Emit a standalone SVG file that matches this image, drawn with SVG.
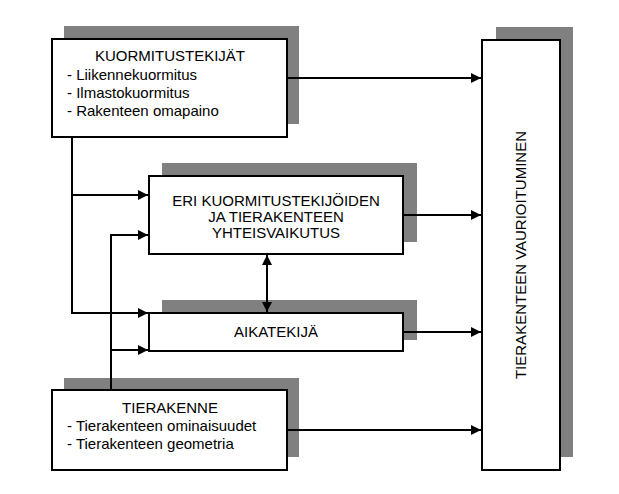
<svg xmlns="http://www.w3.org/2000/svg" width="619" height="494" viewBox="0 0 619 494">
<style>
.sh{fill:#808080}
.bx{fill:#fff;stroke:#000;stroke-width:2}
text{font-family:"Liberation Sans",Arial,sans-serif;font-size:15px;fill:#000}
.c{text-anchor:middle}
.ln{fill:none;stroke:#000;stroke-width:2}
</style>
<defs>
<marker id="a" viewBox="0 0 10 10" refX="10" refY="5" markerWidth="5" markerHeight="5" orient="auto-start-reverse"><path d="M0,0L10,5L0,10z" fill="#000"/></marker>
</defs>
<rect width="619" height="494" fill="#fff"/>
<g id="kuormitus">
<rect class="sh" x="64" y="26" width="235" height="98"/>
<rect class="bx" x="52" y="39" width="235" height="98"/>
<text class="c" x="170" y="61">KUORMITUSTEKIJÄT</text>
<text x="67" y="80">- Liikennekuormitus</text>
<text x="67" y="98">- Ilmastokuormitus</text>
<text x="67" y="116">- Rakenteen omapaino</text>
</g>
<g id="yhteis">
<rect class="sh" x="162" y="163" width="255" height="79"/>
<rect class="bx" x="149" y="176" width="254" height="78"/>
<text class="c" x="276" y="206">ERI KUORMITUSTEKIJÖIDEN</text>
<text class="c" x="276" y="222">JA TIERAKENTEEN</text>
<text class="c" x="276" y="238">YHTEISVAIKUTUS</text>
</g>
<g id="aika">
<rect class="sh" x="162" y="300" width="255" height="40"/>
<rect class="bx" x="149" y="313" width="254" height="38"/>
<text class="c" x="276" y="337">AIKATEKIJÄ</text>
</g>
<g id="tierakenne">
<rect class="sh" x="64" y="378" width="235" height="79"/>
<rect class="bx" x="52" y="390" width="235" height="80"/>
<text class="c" x="170" y="413">TIERAKENNE</text>
<text x="67" y="431">- Tierakenteen ominaisuudet</text>
<text x="67" y="449">- Tierakenteen geometria</text>
</g>
<g id="vaurio">
<rect class="sh" x="496" y="27" width="77" height="430"/>
<rect class="bx" x="482" y="40" width="78" height="430"/>
<text class="c" transform="translate(526,255) rotate(-90)">TIERAKENTEEN VAURIOITUMINEN</text>
</g>
<g id="connectors">
<path class="ln" d="M287,78H481" marker-end="url(#a)"/>
<path class="ln" d="M403,215H481" marker-end="url(#a)"/>
<path class="ln" d="M403,332H481" marker-end="url(#a)"/>
<path class="ln" d="M287,430H481" marker-end="url(#a)"/>
<path class="ln" d="M72,137V313H148" marker-end="url(#a)"/>
<path class="ln" d="M72,195H148" marker-end="url(#a)"/>
<path class="ln" d="M111,390V235H148" marker-end="url(#a)"/>
<path class="ln" d="M111,350H148" marker-end="url(#a)"/>
<path class="ln" d="M267,255V312" marker-start="url(#a)" marker-end="url(#a)"/>
</g>
</svg>
